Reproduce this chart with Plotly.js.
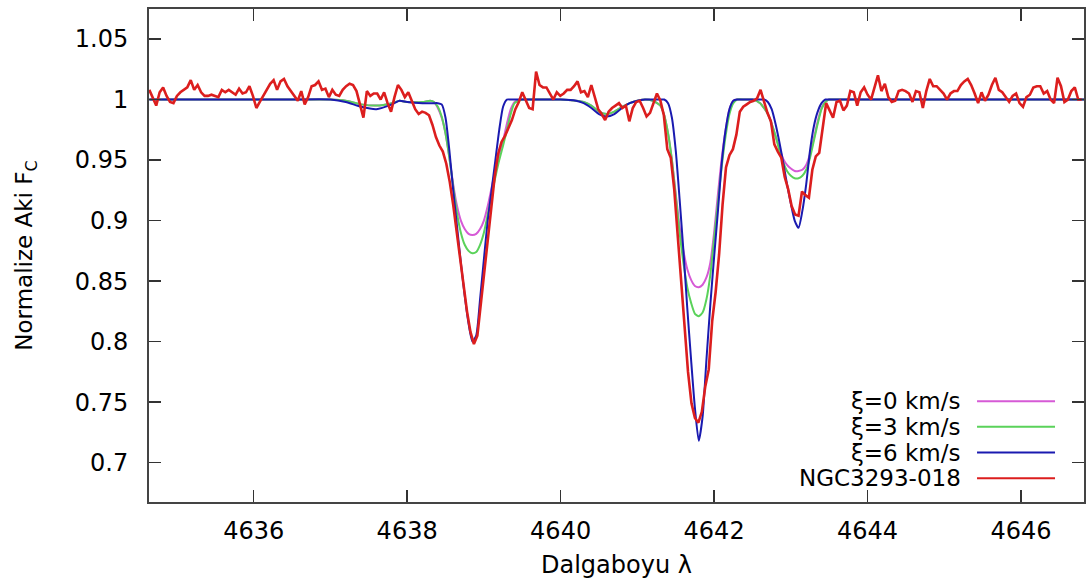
<!DOCTYPE html>
<html>
<head>
<meta charset="utf-8">
<script src="https://cdn.plot.ly/plotly-3.0.1.min.js"></script>
<style>html,body{margin:0;padding:0;background:#fff;}#chart{width:1086px;height:583px;}</style>
</head>
<body>
<div id="chart"></div>
<script>
// ---- Data ----
// Synthetic model spectra share one wavelength grid (Angstrom)
const modelWave = [
  4634.64, 4635.0, 4635.5, 4636.0, 4636.5, 4637.0, 4637.2, 4637.4, 4637.6, 4637.8, 4637.9, 4638.0, 4638.2, 4638.3,
  4638.35, 4638.4, 4638.45, 4638.5, 4638.55, 4638.6, 4638.65, 4638.7, 4638.75, 4638.8, 4638.85, 4638.9, 4638.95,
  4639.0, 4639.05, 4639.1, 4639.15, 4639.2, 4639.25, 4639.3, 4639.35, 4639.4,
  4639.5, 4639.6, 4639.8, 4640.0, 4640.2, 4640.3, 4640.4, 4640.5, 4640.6, 4640.7, 4640.8, 4640.9, 4641.0, 4641.1, 4641.2, 4641.3,
  4641.35, 4641.4, 4641.45, 4641.5, 4641.55, 4641.6, 4641.65, 4641.7, 4641.75, 4641.8, 4641.85, 4641.9, 4641.95,
  4642.0, 4642.05, 4642.1, 4642.15, 4642.2, 4642.25, 4642.3,
  4642.4, 4642.5, 4642.6,
  4642.65, 4642.7, 4642.75, 4642.8, 4642.85, 4642.9, 4642.95, 4643.0, 4643.05, 4643.1, 4643.15, 4643.2, 4643.25,
  4643.3, 4643.35, 4643.4, 4643.45, 4643.5,
  4643.6, 4644.0, 4645.0, 4646.0, 4646.82
];
const fluxXi0 = [
  1.0, 1.0, 1.0, 1.0, 1.0, 1.0, 0.999, 0.996, 0.995, 0.997, 0.999, 0.998, 0.998, 0.999,
  0.998, 0.993, 0.985, 0.972, 0.952, 0.930, 0.912, 0.900, 0.893, 0.889, 0.888, 0.889, 0.893,
  0.900, 0.912, 0.927, 0.942, 0.955, 0.966, 0.980, 0.992, 0.998,
  1.0, 1.0, 1.0, 1.0, 0.999, 0.998, 0.995, 0.990, 0.988, 0.990, 0.994, 0.997, 0.999, 1.0, 0.999, 0.995,
  0.987, 0.972, 0.950, 0.922, 0.895, 0.875, 0.860, 0.851, 0.846, 0.845, 0.847, 0.853, 0.865,
  0.890, 0.922, 0.952, 0.975, 0.992, 0.999, 1.0,
  1.0, 1.0, 0.997,
  0.993, 0.988, 0.980, 0.970, 0.960, 0.951, 0.946, 0.943, 0.941, 0.941, 0.942, 0.946, 0.955,
  0.968, 0.982, 0.993, 0.998, 1.0,
  1.0, 1.0, 1.0, 1.0, 1.0
];
const fluxXi3 = [
  1.0, 1.0, 1.0, 1.0, 1.0, 1.0, 0.999, 0.996, 0.995, 0.997, 0.999, 0.998, 0.998, 0.999,
  0.998, 0.994, 0.986, 0.972, 0.952, 0.928, 0.906, 0.890, 0.880, 0.875, 0.873, 0.874, 0.880,
  0.890, 0.905, 0.921, 0.936, 0.950, 0.962, 0.975, 0.988, 0.997,
  1.0, 1.0, 1.0, 1.0, 0.999, 0.998, 0.995, 0.990, 0.988, 0.990, 0.994, 0.997, 0.999, 1.0, 0.999, 0.995,
  0.987, 0.972, 0.950, 0.920, 0.890, 0.865, 0.845, 0.832, 0.823, 0.821, 0.824, 0.835, 0.855,
  0.885, 0.915, 0.945, 0.970, 0.988, 0.997, 1.0,
  1.0, 1.0, 0.997,
  0.993, 0.988, 0.980, 0.970, 0.958, 0.948, 0.941, 0.937, 0.935, 0.935, 0.937, 0.942, 0.952,
  0.966, 0.980, 0.992, 0.998, 1.0,
  1.0, 1.0, 1.0, 1.0, 1.0
];
const fluxXi6 = [
  1.0, 1.0, 1.0, 1.0, 1.0, 1.0, 0.998, 0.994, 0.992, 0.996, 0.999, 0.998, 0.997, 0.997,
  0.997, 0.997, 0.996, 0.985, 0.958, 0.925, 0.895, 0.865, 0.838, 0.815, 0.800, 0.805, 0.835,
  0.868, 0.900, 0.925, 0.950, 0.975, 0.994, 1.0, 1.0, 1.0,
  1.0, 1.0, 1.0, 1.0, 0.999, 0.997, 0.993, 0.988, 0.986, 0.988, 0.993, 0.997, 0.999, 1.0, 1.0, 1.0,
  1.0, 0.997, 0.985, 0.958, 0.918, 0.875, 0.828, 0.785, 0.745, 0.718, 0.738, 0.785, 0.830,
  0.870, 0.908, 0.948, 0.975, 0.992, 0.999, 1.0,
  1.0, 1.0, 1.0,
  1.0, 0.998, 0.992, 0.980, 0.965, 0.948, 0.930, 0.914, 0.900, 0.894, 0.908, 0.930, 0.958,
  0.978, 0.990, 0.997, 1.0, 1.0,
  1.0, 1.0, 1.0, 1.0, 1.0
];

// Observed spectrum: regular wavelength grid (start, step) and flux values
const obsStart = 4634.64;
const obsStep = 0.045;
const obsFlux = [
  1.008, 1.001, 0.995, 1.006, 1.010, 1.003, 0.998, 0.997, 1.003, 1.006,
  1.008, 1.010, 1.016, 1.008, 1.012, 1.006, 1.003, 1.003, 1.004, 1.003,
  1.002, 1.008, 1.006, 1.008, 1.006, 1.004, 1.009, 1.005, 1.006, 1.011,
  1.003, 0.993, 0.998, 1.003, 1.009, 1.013, 1.016, 1.008, 1.015, 1.017,
  1.011, 1.007, 1.004, 0.999, 1.007, 0.996, 1.002, 1.011, 1.012, 1.015,
  1.008, 1.009, 1.002, 1.008, 1.004, 1.003, 1.008, 1.011, 1.013, 1.012,
  1.007, 0.996, 0.985, 1.007, 1.003, 1.005, 1.005, 1.000, 1.006, 0.997,
  0.990, 1.002, 1.012, 1.008, 1.002, 1.006, 0.999, 0.992, 0.988, 0.990,
  0.989, 0.987, 0.979, 0.969, 0.962, 0.957, 0.947, 0.932, 0.913, 0.891,
  0.868, 0.846, 0.825, 0.808, 0.798, 0.805, 0.831, 0.860, 0.886, 0.913,
  0.936, 0.955, 0.965, 0.970, 0.977, 0.983, 0.992, 0.998, 1.006, 1.000,
  0.993, 0.992, 1.023, 1.012, 1.010, 1.010, 1.005, 1.000, 1.006, 1.003,
  1.005, 1.008, 1.008, 1.011, 1.015, 1.006, 1.007, 1.002, 1.012, 1.002,
  0.992, 0.988, 0.983, 0.990, 0.993, 0.995, 0.997, 0.993, 0.995, 0.982,
  0.993, 0.998, 0.999, 0.993, 0.986, 0.989, 0.998, 1.005, 0.999, 0.987,
  0.959, 0.952, 0.926, 0.887, 0.849, 0.812, 0.775, 0.749, 0.737, 0.733,
  0.742, 0.763, 0.777, 0.817, 0.841, 0.872, 0.913, 0.944, 0.954, 0.959,
  0.971, 0.990, 0.994, 0.996, 0.998, 0.999, 1.001, 1.008, 0.998, 0.989,
  0.982, 0.963, 0.957, 0.952, 0.936, 0.926, 0.912, 0.905, 0.904, 0.924,
  0.921, 0.919, 0.942, 0.953, 0.956, 0.975, 0.997, 0.991, 0.985, 0.998,
  0.999, 0.991, 0.995, 1.007, 1.006, 0.995, 1.006, 1.010, 1.004, 1.000,
  1.010, 1.020, 1.007, 1.013, 1.002, 0.998, 0.999, 1.007, 1.008, 1.007,
  1.005, 0.998, 1.007, 1.006, 0.993, 1.007, 1.017, 1.011, 1.011, 1.008,
  1.005, 1.000, 1.005, 1.007, 1.007, 1.012, 1.015, 1.017, 1.012, 1.005,
  0.997, 1.006, 0.999, 1.004, 1.012, 1.018, 1.008, 1.006, 1.002, 0.998,
  1.003, 1.005, 0.997, 0.994, 1.002, 1.004, 1.010, 1.011, 1.011, 1.005,
  1.007, 1.000, 0.997, 1.018, 1.011, 0.998, 1.000, 1.007, 1.010, 1.000, 1.000
];
const obsWave = obsFlux.map((_, i) => +(obsStart + i * obsStep).toFixed(3));

const seriesNames = ['ξ=0 km/s', 'ξ=3 km/s', 'ξ=6 km/s', 'NGC3293-018'];
const seriesColors = ['#d65ad6', '#5ad25a', '#1a1ab0', '#dc1e1e'];

const xTickVals = [4636, 4638, 4640, 4642, 4644, 4646];
const yTickVals = [0.7, 0.75, 0.8, 0.85, 0.9, 0.95, 1, 1.05];
const yTickText = ['0.7', '0.75', '0.8', '0.85', '0.9', '0.95', '1', '1.05'];

// ---- Traces ----
const ys = [fluxXi0, fluxXi3, fluxXi6];
const traces = ys.map((y, k) => ({
  type: 'scatter', mode: 'lines', name: seriesNames[k],
  x: modelWave, y: y,
  line: {color: seriesColors[k], width: 2, shape: 'spline', smoothing: 0.6}
}));
traces.push({
  type: 'scatter', mode: 'lines', name: seriesNames[3],
  x: obsWave, y: obsFlux,
  line: {color: seriesColors[3], width: 2.6}
});

// ---- Legend drawn gnuplot-style (text left of sample line) ----
const annotations = [];
const shapes = [];
const legTextX = 0.8695, legLineX0 = 0.8856, legLineX1 = 0.969;
const legY0 = 0.2046, legDY = 0.0522;
seriesNames.forEach((n, k) => {
  const yy = legY0 - k * legDY;
  annotations.push({xref: 'paper', yref: 'paper', x: legTextX, y: yy, xanchor: 'right', yanchor: 'middle',
    text: n, showarrow: false, borderpad: 0, font: {family: 'DejaVu Sans', size: 23, color: '#000'}});
  shapes.push({type: 'line', xref: 'paper', yref: 'paper', x0: legLineX0, x1: legLineX1, y0: yy, y1: yy,
    line: {color: seriesColors[k], width: 2}});
});

const axisCommon = {
  showline: true, linecolor: '#444', linewidth: 2, mirror: 'allticks',
  ticks: 'inside', ticklen: 12, tickwidth: 1.5, tickcolor: '#333',
  showgrid: false, zeroline: false,
  tickfont: {family: 'DejaVu Sans', size: 24, color: '#000'}
};

const layout = {
  width: 1086, height: 583,
  margin: {l: 149, r: 2, t: 9, b: 81},
  paper_bgcolor: '#fff', plot_bgcolor: '#fff',
  showlegend: false,
  font: {family: 'DejaVu Sans', color: '#000'},
  xaxis: Object.assign({}, axisCommon, {
    range: [4634.636, 4646.82], tickvals: xTickVals, ticklabelstandoff: 6,
    title: {text: 'Dalgaboyu λ', font: {family: 'DejaVu Sans', size: 24, color: '#000'}, standoff: 12}
  }),
  yaxis: Object.assign({}, axisCommon, {
    range: [0.6675, 1.0748], tickvals: yTickVals, ticktext: yTickText, ticklabelstandoff: 14,
    title: {text: 'Normalize Aki F<sub>C</sub>', font: {family: 'DejaVu Sans', size: 23, color: '#000'}, standoff: 36}
  }),
  annotations: annotations,
  shapes: shapes
};

Plotly.newPlot('chart', traces, layout, {staticPlot: true, displayModeBar: false});
</script>
</body>
</html>
